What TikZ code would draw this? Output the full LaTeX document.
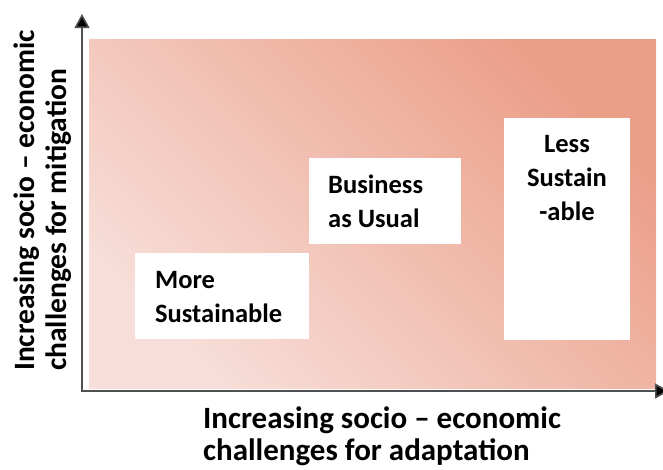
\documentclass[tikz,border=0pt]{standalone}
\usepackage{fontspec}
\setmainfont{Carlito}
\usetikzlibrary{arrows.meta}
\definecolor{pinklight}{RGB}{247,222,216}
\definecolor{pinkdark}{RGB}{235,158,136}
\definecolor{axisgray}{RGB}{80,80,80}
\begin{document}
\begin{tikzpicture}[x=1pt,y=-1pt,
  boxstyle/.style={fill=white, draw=none, inner sep=0pt, anchor=north west},
  boxtext/.style={font=\bfseries\fontsize{26.5}{34}\selectfont, inner sep=0pt},
  axislabel/.style={inner sep=0pt, align=left},
  axisline/.style={draw=axisgray, line width=1.6pt, {Triangle[width=15pt,length=14pt,fill=black]}-{Triangle[width=15pt,length=14pt,fill=black]}}]
\useasboundingbox (0,0) rectangle (663,469);
\shade[bottom color=pinklight, top color=pinkdark, shading angle=-45] (89,39) rectangle (656,388);
% boxes
\node[boxstyle, minimum width=174pt, minimum height=86pt] (morebox) at (135,253) {};
\node[boxstyle, minimum width=152pt, minimum height=86pt] (baubox) at (309,158) {};
\node[boxstyle, minimum width=126pt, minimum height=222pt] (lessbox) at (504,118) {};
% box texts (base anchor = baseline of last line)
\node[boxtext, anchor=base west, align=left] (moretxt) at (155,322) {More\\Sustainable};
\node[boxtext, anchor=base west, align=left] (bautxt) at (328,227) {Business\\as Usual};
\node[boxtext, anchor=base, align=center] (lesstxt) at (567,220) {Less\\Sustain\\-able};
% axes
\coordinate (origin) at (82,391);
\coordinate (ytip) at (82,14);
\coordinate (xtip) at (669,391);
\draw[axisline] (ytip) -- (origin) -- (xtip);
% axis labels
\node[axislabel, font=\bfseries\fontsize{29.5}{32}\selectfont, rotate=90, anchor=base west] (ylab) at (66,371) {Increasing socio – economic\\challenges for mitigation};
\node[axislabel, font=\bfseries\fontsize{31}{32}\selectfont, anchor=base west] (xlab) at (203,460) {Increasing socio – economic\\challenges for adaptation};
\end{tikzpicture}
\end{document}
